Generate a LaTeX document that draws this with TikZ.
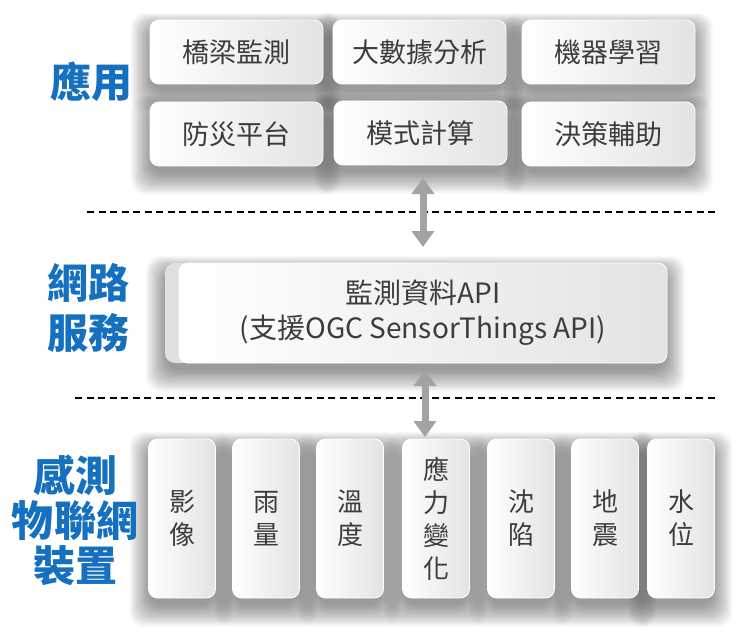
\documentclass[tikz,border=0pt]{standalone}
\usepackage{fontspec}
\setmainfont{Noto Sans CJK TC}
\usetikzlibrary{arrows.meta}
\definecolor{lblue}{HTML}{1670C0}
\definecolor{txt}{HTML}{3C3C3C}
\definecolor{arr}{HTML}{A3A3A3}
\tikzset{
 card/.style={rounded corners=9pt, inner sep=0pt, text=txt, left color=white, right color=gray!22, draw=white, line width=0.8pt},
 appbox/.style={card, minimum width=173pt, minimum height=64pt, font=\fontsize{27}{32}\selectfont},
 devbox/.style={card, minimum width=67pt, minimum height=159pt, font=\fontsize{26}{33}\selectfont, align=center},
 layerlabel/.style={text=lblue, font=\fontsize{41}{46}\selectfont\bfseries, align=center, inner sep=0pt},
 sepline/.style={dash pattern=on 7pt off 4.5pt, line width=1.5pt, black},
 dbl/.style={arr, line width=7pt, {Triangle[width=22pt,length=16pt]}-{Triangle[width=22pt,length=16pt]}},
 shadelayer/.style={fill=black, fill opacity=0.024, draw=none},
}
\begin{document}
\begin{tikzpicture}[x=1pt,y=-1pt]
\useasboundingbox[fill=white] (0,0) rectangle (738,639);
% soft shadows (drawn first, behind all cards)
\foreach \xa/\ya/\xb/\yb in {150/20/323/84, 333/20/506/84, 522/20/695/84,
  150/102/323/166, 333/101/508/165, 522/102/695/166,
  165/263/667/363,
  148.5/439/215.5/598, 232.5/439/299.5/598, 316.5/439/383.5/598, 402.5/439/469.5/598,
  487.5/439/554.5/598, 571.5/439/638.5/598, 647.5/439/714.5/598}
  \foreach \k in {1,...,19}
    \path[shadelayer, rounded corners=14pt]
      ({\xa-1.1*\k+2},{\ya-0.9*\k+10}) rectangle ({\xb+1.1*\k-3},{\yb+1.2*\k+6});
% application layer
\node[appbox] (b1) at (236.5,52) {橋梁監測};
\node[appbox] (b2) at (419.5,52) {大數據分析};
\node[appbox] (b3) at (608.5,52) {機器學習};
\node[appbox] (b4) at (236.5,134) {防災平台};
\node[appbox] (b5) at (420.5,133) {模式計算};
\node[appbox] (b6) at (608.5,134) {決策輔助};
% network service
\node[rounded corners=10pt, fill=gray!24, minimum width=502pt, minimum height=100pt] (mbk) at (416,313) {};
\node[card, minimum width=488pt, minimum height=100pt, align=center,
   font=\fontsize{28}{35}\selectfont] (api) at (423,313) {監測資料API\\(支援OGC SensorThings API)};
% devices
\node[devbox] (s1) at (182,518.5) {影\\像};
\node[devbox] (s2) at (266,518.5) {雨\\量};
\node[devbox] (s3) at (350,518.5) {溫\\度};
\node[devbox] (s4) at (436,518.5) {應\\力\\變\\化};
\node[devbox] (s5) at (521,518.5) {沈\\陷};
\node[devbox] (s6) at (605,518.5) {地\\震};
\node[devbox] (s7) at (681,518.5) {水\\位};
% layer labels
\node[layerlabel] (l1) at (91,82) {應用};
\node[layerlabel, font=\fontsize{41}{50}\selectfont\bfseries] (l2) at (88,308) {網路\\服務};
\node[layerlabel, font=\fontsize{42}{45}\selectfont\bfseries] (l3) at (75,520) {感測\\物聯網\\裝置};
% separators
\coordinate (d1l) at (87,212); \coordinate (d1r) at (715,212);
\coordinate (d2l) at (75,398); \coordinate (d2r) at (715,398);
\draw[sepline] (d1l) -- (d1r);
\draw[sepline] (d2l) -- (d2r);
% arrows
\coordinate (a1t) at (423,178); \coordinate (a1b) at (423,247);
\coordinate (a2t) at (425,370); \coordinate (a2b) at (425,437);
\draw[dbl] (a1t) -- (a1b);
\draw[dbl] (a2t) -- (a2b);
\end{tikzpicture}
\end{document}
